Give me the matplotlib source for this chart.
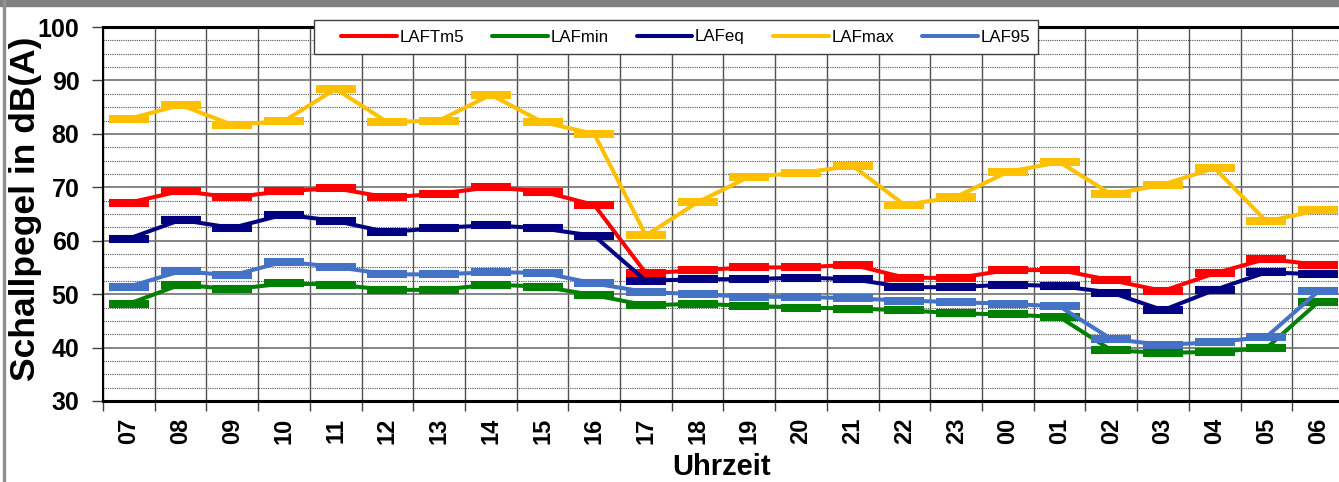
import numpy as np
import matplotlib
matplotlib.use("Agg")
import matplotlib.pyplot as plt
from matplotlib.lines import Line2D
from matplotlib.patches import Rectangle

plt.rcParams["font.family"] = ["Liberation Sans", "DejaVu Sans"]

# ── data ─────────────────────────────────────────────────────────────────────
hours = ["07", "08", "09", "10", "11", "12", "13", "14", "15", "16", "17", "18",
         "19", "20", "21", "22", "23", "00", "01", "02", "03", "04", "05", "06"]

laftm5 = [67.1, 69.3, 68.1, 69.3, 69.8, 68.1, 68.8, 70.0, 69.2, 66.7, 53.9, 54.5,
          55.0, 55.0, 55.5, 53.1, 53.0, 54.5, 54.5, 52.6, 50.6, 53.9, 56.6, 55.5]
lafmin = [48.2, 51.8, 50.9, 52.0, 51.8, 50.8, 50.8, 51.8, 51.4, 49.8, 47.9, 48.2,
          47.8, 47.5, 47.3, 47.0, 46.4, 46.2, 45.7, 39.5, 39.0, 39.2, 39.9, 48.5]
lafeq = [60.4, 63.9, 62.4, 64.9, 63.7, 61.6, 62.4, 62.9, 62.3, 60.9, 52.5, 52.8,
         52.8, 53.1, 52.8, 51.3, 51.3, 51.8, 51.5, 50.3, 47.0, 50.8, 54.1, 53.7]
lafmax = [82.8, 85.4, 81.7, 82.4, 88.4, 82.2, 82.5, 87.3, 82.2, 80.0, 61.0, 67.2,
          72.0, 72.7, 74.0, 66.7, 68.2, 72.9, 74.7, 68.7, 70.5, 73.6, 63.6, 65.7]
laf95 = [51.4, 54.3, 53.5, 56.1, 55.1, 53.7, 53.7, 54.1, 54.0, 52.0, 50.4, 50.0,
         49.5, 49.5, 49.2, 48.8, 48.5, 48.2, 47.7, 41.6, 40.5, 41.0, 42.0, 50.5]

series = [("LAFTm5", laftm5, "#FF0000"),
          ("LAFmin", lafmin, "#008000"),
          ("LAFeq", lafeq, "#000080"),
          ("LAFmax", lafmax, "#FFC000"),
          ("LAF95", laf95, "#4472C4")]

W, H = 1339, 482
fig = plt.figure(figsize=(W / 100, H / 100), dpi=100)

# grey frame of the exported chart
fig.patches.append(Rectangle((0, 1 - 6 / H), 1, 6 / H, transform=fig.transFigure,
                             color="#808080", zorder=0))
fig.patches.append(Rectangle((2.7 / W, 0), 2.6 / W, 1, transform=fig.transFigure,
                             color="#909090", zorder=0))

ax = fig.add_axes([103 / W, 1 - 401 / H, 1241 / W, 374 / H])
x = np.arange(len(hours))

for name, vals, col in series:
    ax.plot(x, vals, color=col, lw=2.9, solid_joinstyle="round", zorder=3)
    ax.plot(x, vals, ls="none", marker="_", ms=29.5, mew=5.8, color=col, zorder=3)

ax.set_xlim(-0.5, len(hours) - 0.5)
ax.set_ylim(30, 100)

ax.set_xticks(x)
ax.set_xticklabels(hours, rotation=90, fontsize=17, fontweight="bold")
ax.set_xticks(np.arange(-0.5, len(hours)), minor=True)
ax.tick_params(axis="x", which="major", length=0, pad=12)
ax.tick_params(axis="x", which="minor", length=7, width=1, color="#404040", direction="out")

ax.set_yticks(np.arange(30, 101, 10))
ax.set_yticklabels([str(v) for v in range(30, 101, 10)], fontsize=18, fontweight="bold")
ax.set_yticks(np.arange(30, 100, 2.5), minor=True)
ax.tick_params(axis="y", which="major", length=8, width=1, color="#404040", pad=9)
ax.tick_params(axis="y", which="minor", length=0)

ax.grid(axis="y", which="major", color="#707070", lw=1.2, zorder=1)
ax.grid(axis="y", which="minor", color="#505050", lw=0.8, ls=(0, (1, 1)), zorder=1)
ax.grid(axis="x", which="minor", color="#505050", lw=1.0, zorder=1)
ax.grid(axis="x", which="major", visible=False)

ax.spines["right"].set_visible(False)
ax.spines["left"].set_linewidth(1.5)
ax.spines["bottom"].set_linewidth(2.2)
ax.spines["top"].set_linewidth(2.2)

fig.text(26 / W, 1 - 209 / H, "Schallpegel in dB(A)", rotation=90, ha="center",
         va="center", fontsize=25.5, fontweight="bold")
fig.text(722 / W, 1 - 467 / H, "Uhrzeit", ha="center", va="center",
         fontsize=21, fontweight="bold")

# legend: frame drawn separately so the inner padding matches the reference
fig.patches.append(Rectangle((314 / W, 1 - 54 / H), 724 / W, 34 / H,
                             transform=fig.transFigure, facecolor="white",
                             edgecolor="#404040", lw=1.0, zorder=9))
handles = [Line2D([], [], color=c, lw=2.9, solid_capstyle="round") for _, _, c in series]
leg = fig.legend(handles, [n for n, _, _ in series], loc="center left",
                 bbox_to_anchor=(341 / W, 1 - 37 / H), ncol=5, fontsize=12.2,
                 frameon=False, handlelength=3.3, handletextpad=0.15,
                 columnspacing=1.65, borderpad=0, borderaxespad=0)
leg.set_zorder(10)

fig.savefig("out.png", dpi=100)
